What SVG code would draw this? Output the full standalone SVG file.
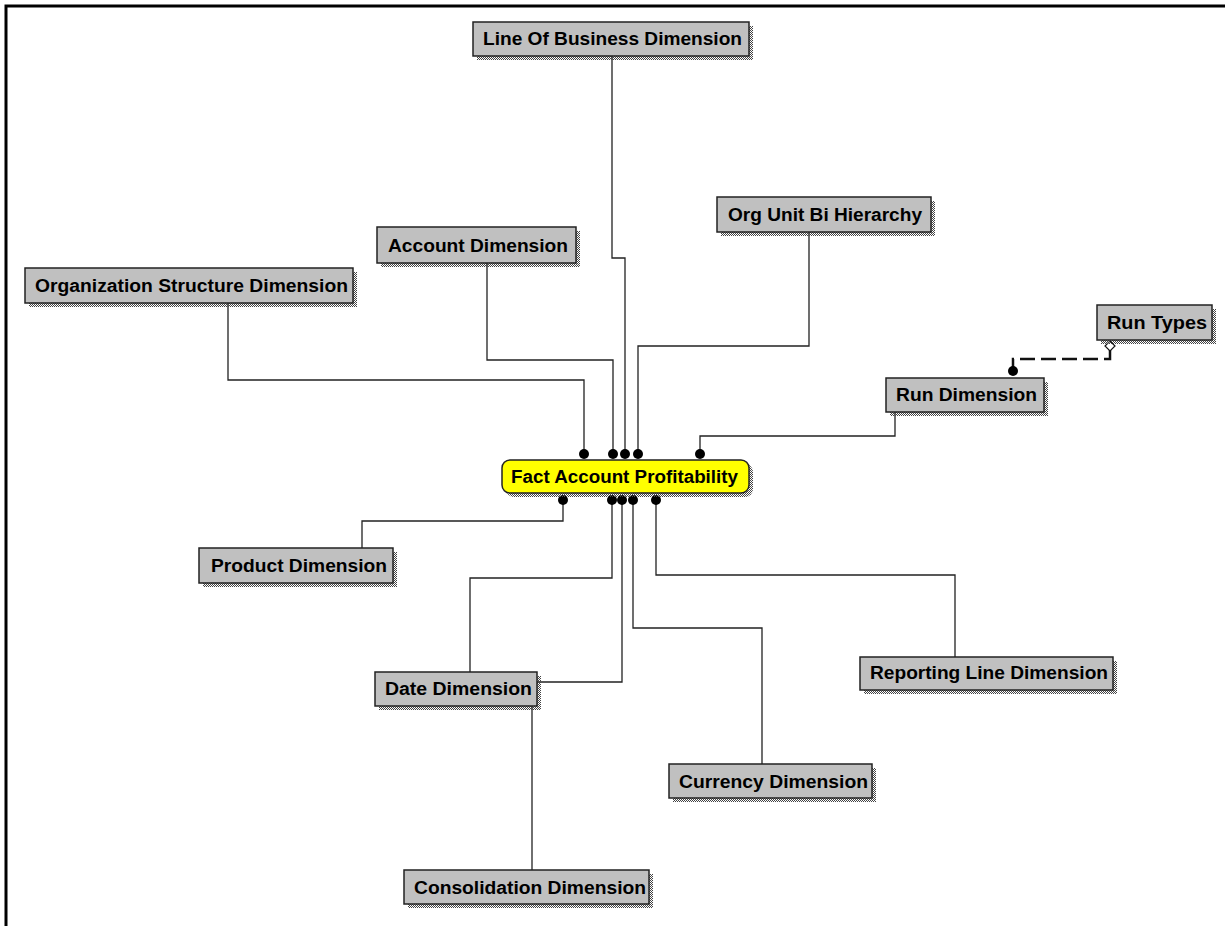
<svg xmlns="http://www.w3.org/2000/svg" width="1225" height="926" viewBox="0 0 1225 926">
  <defs>
    <pattern id="dots" width="2" height="2" patternUnits="userSpaceOnUse">
      <rect width="1" height="1" fill="#444"/>
      <rect x="1" y="1" width="1" height="1" fill="#444"/>
    </pattern>
    <style>
      .box { fill: #c0c0c0; stroke: #222; stroke-width: 1.5; }
      .fact { fill: #ffff00; stroke: #222; stroke-width: 1.5; }
      .shadow { fill: url(#dots); }
      .lbl { font-family: "Liberation Sans", Arial, sans-serif; font-weight: bold; font-size: 18px; fill: #000; }
      .conn { fill: none; stroke: #222; stroke-width: 1.3; }
      .dash { fill: none; stroke: #111; stroke-width: 2.5; stroke-dasharray: 15 6; }
      .dot { fill: #000; }
    </style>
  </defs>
  <rect width="1225" height="926" fill="#fff"/>
  <path d="M6 926 V6 H1225" fill="none" stroke="#000" stroke-width="3"/>

  <g id="connectors">
    <!-- top side -->
    <polyline class="conn" points="228,303 228,380 584,380 584,454"/>
    <polyline class="conn" points="487,263 487,360 613,360 613,454"/>
    <polyline class="conn" points="612,56 612,258 625,258 625,454"/>
    <polyline class="conn" points="809,232 809,346 638,346 638,454"/>
    <polyline class="conn" points="895,412 895,436 700,436 700,454"/>
    <!-- bottom side -->
    <polyline class="conn" points="563,500 563,521 362,521 362,548"/>
    <polyline class="conn" points="612,500 612,578 470,578 470,672"/>
    <polyline class="conn" points="622,500 622,682 537,682"/>
    <polyline class="conn" points="633,500 633,628 762,628 762,764"/>
    <polyline class="conn" points="656,500 656,575 955,575 955,657"/>
    <polyline class="conn" points="532,706 532,870"/>
    <!-- run types to run dimension -->
    <polyline class="dash" points="1110,350 1110,359 1013,359 1013,378"/>
    <polygon points="1110,341 1115,346 1110,351 1105,346" fill="#fff" stroke="#111" stroke-width="1.2"/>
    <circle class="dot" cx="1013" cy="371" r="5"/>
    <!-- endpoint dots -->
    <circle class="dot" cx="584" cy="454" r="5"/>
    <circle class="dot" cx="613" cy="454" r="5"/>
    <circle class="dot" cx="625" cy="454" r="5"/>
    <circle class="dot" cx="638" cy="454" r="5"/>
    <circle class="dot" cx="700" cy="454" r="5"/>
    <circle class="dot" cx="563" cy="500" r="5"/>
    <circle class="dot" cx="612" cy="500" r="5"/>
    <circle class="dot" cx="622" cy="500" r="5"/>
    <circle class="dot" cx="633" cy="500" r="5"/>
    <circle class="dot" cx="656" cy="500" r="5"/>
  </g>

  <g id="line-of-business">
    <rect class="shadow" x="477" y="26" width="276" height="34"/>
    <rect class="box" x="473" y="22" width="276" height="34"/>
    <text class="lbl" x="483" y="45" textLength="259" lengthAdjust="spacingAndGlyphs">Line Of Business Dimension</text>
  </g>

  <g id="org-unit-bi-hierarchy">
    <rect class="shadow" x="721" y="201" width="214" height="35"/>
    <rect class="box" x="717" y="197" width="214" height="35"/>
    <text class="lbl" x="728" y="221" textLength="194" lengthAdjust="spacingAndGlyphs">Org Unit Bi Hierarchy</text>
  </g>

  <g id="account-dimension">
    <rect class="shadow" x="381" y="231" width="199" height="36"/>
    <rect class="box" x="377" y="227" width="199" height="36"/>
    <text class="lbl" x="388" y="252" textLength="180" lengthAdjust="spacingAndGlyphs">Account Dimension</text>
  </g>

  <g id="organization-structure">
    <rect class="shadow" x="29" y="272" width="328" height="35"/>
    <rect class="box" x="25" y="268" width="328" height="35"/>
    <text class="lbl" x="35" y="292" textLength="313" lengthAdjust="spacingAndGlyphs">Organization Structure Dimension</text>
  </g>

  <g id="run-types">
    <rect class="shadow" x="1101" y="309" width="115" height="35"/>
    <rect class="box" x="1097" y="305" width="115" height="35"/>
    <text class="lbl" x="1107" y="329" textLength="100" lengthAdjust="spacingAndGlyphs">Run Types</text>
  </g>

  <g id="run-dimension">
    <rect class="shadow" x="890" y="382" width="158" height="34"/>
    <rect class="box" x="886" y="378" width="158" height="34"/>
    <text class="lbl" x="896" y="401" textLength="141" lengthAdjust="spacingAndGlyphs">Run Dimension</text>
  </g>

  <g id="fact-account-profitability">
    <rect class="shadow" x="506" y="464" width="247" height="33" rx="8"/>
    <rect class="fact" x="502" y="460" width="247" height="33" rx="8"/>
    <text class="lbl" x="511" y="483" textLength="227" lengthAdjust="spacingAndGlyphs">Fact Account Profitability</text>
  </g>

  <g id="product-dimension">
    <rect class="shadow" x="203" y="552" width="194" height="35"/>
    <rect class="box" x="199" y="548" width="194" height="35"/>
    <text class="lbl" x="211" y="572" textLength="176" lengthAdjust="spacingAndGlyphs">Product Dimension</text>
  </g>

  <g id="date-dimension">
    <rect class="shadow" x="379" y="676" width="162" height="34"/>
    <rect class="box" x="375" y="672" width="162" height="34"/>
    <text class="lbl" x="385" y="695" textLength="147" lengthAdjust="spacingAndGlyphs">Date Dimension</text>
  </g>

  <g id="reporting-line-dimension">
    <rect class="shadow" x="864" y="661" width="253" height="33"/>
    <rect class="box" x="860" y="657" width="253" height="33"/>
    <text class="lbl" x="870" y="679" textLength="238" lengthAdjust="spacingAndGlyphs">Reporting Line Dimension</text>
  </g>

  <g id="currency-dimension">
    <rect class="shadow" x="673" y="768" width="203" height="34"/>
    <rect class="box" x="669" y="764" width="203" height="34"/>
    <text class="lbl" x="679" y="788" textLength="189" lengthAdjust="spacingAndGlyphs">Currency Dimension</text>
  </g>

  <g id="consolidation-dimension">
    <rect class="shadow" x="408" y="874" width="245" height="34"/>
    <rect class="box" x="404" y="870" width="245" height="34"/>
    <text class="lbl" x="414" y="894" textLength="232" lengthAdjust="spacingAndGlyphs">Consolidation Dimension</text>
  </g>
</svg>
